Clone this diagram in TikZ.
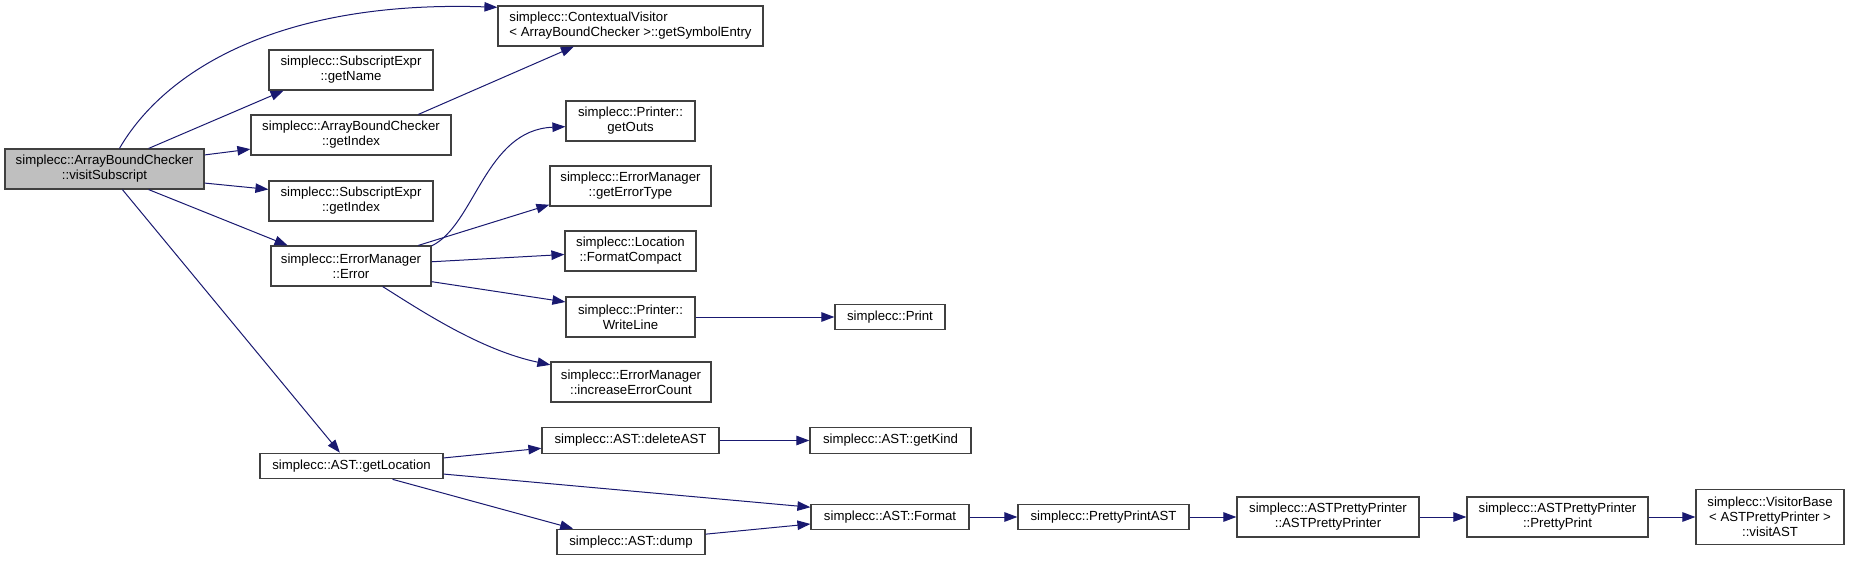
\documentclass[tikz,border=0pt]{standalone}
\usepackage{fontspec}
\setmainfont{Liberation Sans}
\usetikzlibrary{arrows.meta}
\definecolor{edgeblue}{RGB}{25,25,112}
\definecolor{boxgray}{RGB}{64,64,64}
\definecolor{curgray}{RGB}{191,191,191}

\begin{document}
\begin{tikzpicture}[x=1pt, y=-1pt,
  every node/.style={font=\fontsize{13.2}{15}\selectfont, inner sep=0pt, align=center},
  fn/.style={draw=boxgray, line width=1.2pt, fill=white, minimum height=40pt},
  fnone/.style={fn, minimum height=25.5pt},
  arr/.style={-{Triangle[length=13pt, width=9.5pt]}, edgeblue, line width=1pt}
]
  \useasboundingbox (0,0) rectangle (1851,561);

  \node[fn, fill=curgray, minimum width=199pt] (vs) at (104.5, 169) {simplecc::ArrayBoundChecker\\::visitSubscript};

  \node[fn, minimum width=265pt, align=left] (sym) at (630.5, 26) {simplecc::ContextualVisitor\\< ArrayBoundChecker >::getSymbolEntry};
  \node[fn, minimum width=164pt] (gname) at (351, 70) {simplecc::SubscriptExpr\\::getName};
  \node[fn, minimum width=200pt] (abcidx) at (351, 135) {simplecc::ArrayBoundChecker\\::getIndex};
  \node[fn, minimum width=164pt] (seidx) at (351, 201) {simplecc::SubscriptExpr\\::getIndex};
  \node[fn, minimum width=160pt] (err) at (351, 266) {simplecc::ErrorManager\\::Error};
  \node[fnone, minimum width=183pt] (loc) at (351.5, 466) {simplecc::AST::getLocation};

  \node[fn, minimum width=129pt] (outs) at (630.5, 121) {simplecc::Printer::\\getOuts};
  \node[fn, minimum width=161pt] (etype) at (630.5, 186) {simplecc::ErrorManager\\::getErrorType};
  \node[fn, minimum width=131pt] (fcomp) at (630.5, 251) {simplecc::Location\\::FormatCompact};
  \node[fn, minimum width=129pt] (wline) at (630.5, 317) {simplecc::Printer::\\WriteLine};
  \node[fn, minimum width=160pt] (incr) at (631, 382) {simplecc::ErrorManager\\::increaseErrorCount};
  \node[fnone, minimum width=177pt] (del) at (630.5, 440.5) {simplecc::AST::deleteAST};
  \node[fnone, minimum width=148pt] (dump) at (631, 542) {simplecc::AST::dump};

  \node[fnone, minimum width=110pt] (print) at (890, 317) {simplecc::Print};
  \node[fnone, minimum width=161pt] (kind) at (890.5, 440.5) {simplecc::AST::getKind};
  \node[fnone, minimum width=158pt] (fmt) at (890, 517) {simplecc::AST::Format};
  \node[fnone, minimum width=171pt] (ppast) at (1103.5, 517) {simplecc::PrettyPrintAST};
  \node[fn, minimum width=182pt] (ctor) at (1328, 517) {simplecc::ASTPrettyPrinter\\::ASTPrettyPrinter};
  \node[fn, minimum width=181pt] (pprint) at (1557.5, 517) {simplecc::ASTPrettyPrinter\\::PrettyPrint};
  \node[fn, minimum width=148pt, minimum height=55pt] (visit) at (1770, 517) {simplecc::VisitorBase\\< ASTPrettyPrinter >\\::visitAST};

  \draw[arr] (vs.54) .. controls (165,70) and (280,0) .. (sym.172);
  \draw[arr] (vs.25) -- (gname.197);
  \draw[arr] (vs.8) -- (abcidx.188.5);
  \draw[arr] (vs.352.6) -- (seidx.172.4);
  \draw[arr] (vs.335) -- (err.162.4);
  \draw[arr] (vs.311) -- (loc.131.5);
  \draw[arr] (abcidx.17.9) -- (sym.200.5);

  \draw[arr] (err.14) .. controls (475,225) and (485,130) .. (outs.185);
  \draw[arr] (err.17.9) -- (etype.193.3);
  \draw[arr] (err.3) -- (fcomp.183.5);
  \draw[arr] (err.349.4) -- (wline.167.8);
  \draw[arr] (err.327) .. controls (420,310) and (480,350) .. (incr.168.7);
  \draw[arr] (wline) -- (print);

  \draw[arr] (loc.5.6) -- (del.185.5);
  \draw[arr] (loc.355) -- (fmt.173.9);
  \draw[arr] (loc.342) -- (dump.167);
  \draw[arr] (dump.6.2) -- (fmt.185.4);
  \draw[arr] (del) -- (kind);
  \draw[arr] (fmt) -- (ppast);
  \draw[arr] (ppast) -- (ctor);
  \draw[arr] (ctor) -- (pprint);
  \draw[arr] (pprint) -- (visit);
\end{tikzpicture}
\end{document}
